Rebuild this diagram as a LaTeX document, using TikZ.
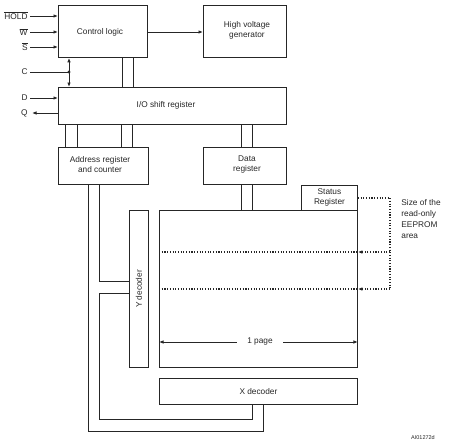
\documentclass[tikz,border=0pt]{standalone}
\usepackage{fontspec}
\setmainfont{Liberation Sans}
\usetikzlibrary{arrows.meta,calc}
\begin{document}
\begin{tikzpicture}[x=1pt,y=-1pt,line width=0.9pt,color=black!85,
  txt/.style={font=\fontsize{8.3}{10}\selectfont},
  box/.style={draw,txt,inner sep=0pt,align=center,anchor=north west},
  lbl/.style={txt,anchor=east,inner sep=0pt},
  arr/.style={-{Latex[length=4.5pt,width=3.6pt]}},
  darr/.style={{Latex[length=4.5pt,width=3.6pt]}-{Latex[length=4.5pt,width=3.6pt]}},
  dot/.style={line width=1.1pt,dash pattern=on 1.1pt off 1.6pt}]
\useasboundingbox (0,0) rectangle (450,447);

% boxes
\node[box,minimum width=89pt,minimum height=52pt] (ctrl) at (58,5) {};
\node[txt] at (100,32) {Control logic};
\node[box,minimum width=83pt,minimum height=52pt] (hv) at (203,5) {};
\node[txt,align=center] at (247,30) {High voltage\\generator};
\node[box,minimum width=228pt,minimum height=37pt] (io) at (58,87) {};
\node[txt] at (166,105) {I/O shift register};
\node[box,minimum width=90pt,minimum height=37pt] (addr) at (58,147) {};
\node[txt,align=center] at (100,165) {Address register\\and counter};
\node[box,minimum width=83pt,minimum height=37pt] (data) at (203,147) {};
\node[txt,align=center] at (247,165) {Data\\register};
\node[box,minimum width=198pt,minimum height=157pt] (mem) at (159,210) {};
\node[box,minimum width=56pt,minimum height=25pt] (stat) at (301,185) {Status\\Register};
\node[box,minimum width=19pt,minimum height=157pt] (ydec) at (129,210) {};
\node[txt,rotate=90] at (139,289) {Y decoder};
\node[box,minimum width=198pt,minimum height=26pt] (xdec) at (159,378) {X decoder};

% input labels
\node[lbl] (hold) at (28,16) {$\overline{\mbox{HOLD}}$};
\node[lbl] (w) at (28,32) {$\overline{\mbox{W}}$};
\node[lbl] (s) at (28,47) {$\overline{\mbox{S}}$};
\node[lbl] (c) at (28,72) {C};
\node[lbl] (d) at (28,98) {D};
\node[lbl] (q) at (28,113) {Q};

\foreach \n in {hold,w,s}
  \draw[arr] ([xshift=2pt]\n.east) -- (\n.east -| ctrl.west);
\coordinate (cj) at (69,72);
\draw ([xshift=2pt]c.east) -- (cj);
\fill (cj) circle (1.6pt);
\draw[darr] (cj |- ctrl.south) -- (cj |- io.north);
\draw[arr] ([xshift=2pt]d.east) -- (d.east -| io.west);
\draw[arr] (q.east -| io.west) -- ([xshift=4pt]q.east);

\draw[arr] (ctrl.east |- 0,32) -- (hv.west |- 0,32);

% buses
\foreach \x in {122,133}
  \draw (ctrl.south -| \x,0) -- (io.north -| \x,0);
\foreach \x in {65,77,121,132}
  \draw (io.south -| \x,0) -- (addr.north -| \x,0);
\foreach \x in {241,252}
  \draw (io.south -| \x,0) -- (data.north -| \x,0);
\foreach \x in {241,252}
  \draw (data.south -| \x,0) -- (mem.north -| \x,0);

\draw (addr.south -| 99,0) |- (ydec.west |- 0,281);
\draw (ydec.west |- 0,293) -| (99,419) -| (xdec.south -| 252,0);
\draw (addr.south -| 88,0) |- (263,431) -- (xdec.south -| 263,0);

% dotted rows
\draw[dot] (mem.west |- 0,252) -- (mem.east |- 0,252);
\draw[dot] (mem.west |- 0,289) -- (mem.east |- 0,289);
\coordinate (rc) at (390,289);
\draw[dot] (stat.east) -| (rc);
\draw[dot,arr] (rc |- 0,252) -- (mem.east |- 0,252);
\draw[dot,arr] (rc) -- (mem.east |- rc);
\node[txt,align=left,anchor=north west,inner sep=0pt,font=\fontsize{8.3}{11}\selectfont] (size) at (401,199) {Size of the\\read-only\\EEPROM\\area};

% page
\node[txt,inner xsep=10pt] (pg) at (260,342) {1 page};
\draw[arr] (pg.west) -- (mem.west |- pg.west);
\draw[arr] (pg.east) -- (mem.east |- pg.east);

\node[font=\fontsize{5.5}{6}\selectfont,inner sep=0pt] (ref) at (423,438) {AI01272d};
\end{tikzpicture}
\end{document}
